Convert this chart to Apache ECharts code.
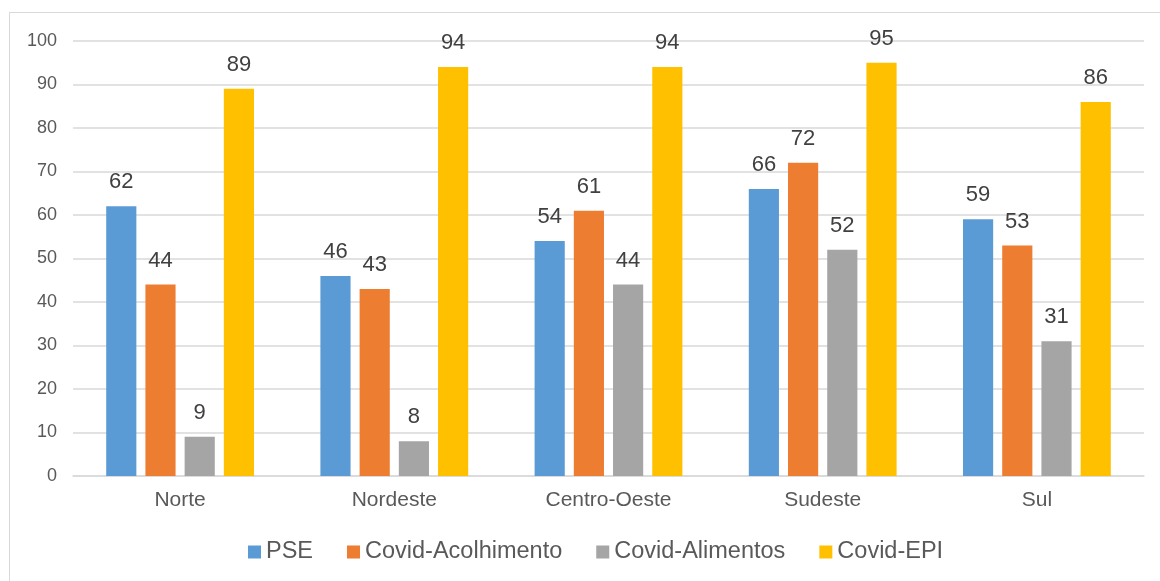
<!DOCTYPE html>
<html><head><meta charset="utf-8">
<script src="https://cdn.jsdelivr.net/npm/echarts@6/dist/echarts.min.js"></script>
<style>html,body{margin:0;padding:0;background:#fff}#c{width:1160px;height:581px}
#frame{position:absolute;left:9px;top:12px;width:1160px;height:600px;border:1.5px solid #D9D9D9;box-sizing:border-box;pointer-events:none}</style>
</head><body><div id="c"></div><div id="frame"></div>
<script>
const categories = ['Norte', 'Nordeste', 'Centro-Oeste', 'Sudeste', 'Sul'];
const seriesNames = ['PSE', 'Covid-Acolhimento', 'Covid-Alimentos', 'Covid-EPI'];
const pse = [62, 46, 54, 66, 59];
const acolhimento = [44, 43, 61, 72, 53];
const alimentos = [9, 8, 44, 52, 31];
const epi = [89, 94, 94, 95, 86];
const yTicks = [0, 10, 20, 30, 40, 50, 60, 70, 80, 90, 100];
const colors = ['#5B9BD5', '#ED7D31', '#A5A5A5', '#FFC000'];
const values = [pse, acolhimento, alimentos, epi];

const chart = echarts.init(document.getElementById('c'), null, {renderer: 'canvas'});
const font = 'Liberation Sans, Arial, sans-serif';
chart.setOption({
  animation: false,
  color: colors,
  grid: {left: 73, right: 16, top: 41, bottom: 105},
  legend: {
    top: 540, left: 248, padding: 0, itemWidth: 13, itemHeight: 13, itemGap: 34,
    icon: 'rect',
    textStyle: {fontSize: 23.5, color: '#595959', fontFamily: font},
    data: seriesNames
  },
  xAxis: {
    type: 'category', data: categories,
    axisLine: {lineStyle: {color: '#D9D9D9', width: 1.5}},
    axisTick: {show: false},
    axisLabel: {fontSize: 21, color: '#595959', fontFamily: font, margin: 14}
  },
  yAxis: {
    type: 'value', min: yTicks[0], max: yTicks[yTicks.length - 1], interval: 10,
    axisLine: {show: false}, axisTick: {show: false},
    axisLabel: {fontSize: 18, color: '#595959', fontFamily: font, margin: 16},
    splitLine: {lineStyle: {color: '#D9D9D9', width: 1.5}}
  },
  series: seriesNames.map((n, i) => ({
    name: n, type: 'bar', data: values[i],
    barGap: '30%', barCategoryGap: '31%',
    label: {show: true, position: 'top', distance: 13, fontSize: 22, color: '#404040', fontFamily: font}
  }))
});
</script></body></html>
